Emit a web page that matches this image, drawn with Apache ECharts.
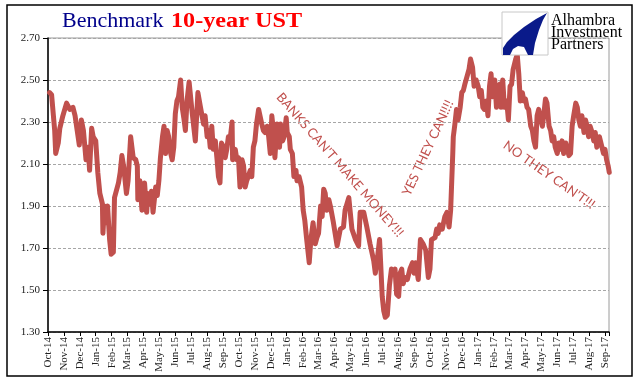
<!DOCTYPE html>
<html>
<head>
<meta charset="utf-8">
<script src="https://cdn.jsdelivr.net/npm/echarts@6/dist/echarts.min.js"></script>
<style>
html,body{margin:0;padding:0;background:#fff;}
#chart{width:641px;height:381px;}
</style>
</head>
<body>
<div id="chart"></div>
<script>
// Days since 2014-10-01
var days = [3,7,13,15,20,23,29,36,42,48,52,56,60,64,68,73,77,80,84,87,92,96,100,105,106,109,112,115,119,122,126,128,135,138,141,144,149,152,157,162,167,170,171,175,179,184,188,190,194,197,200,205,208,211,214,218,221,224,227,230,234,237,240,243,246,249,253,256,259,262,265,269,275,281,286,291,297,300,304,307,310,313,316,320,323,326,329,332,336,339,342,345,348,352,353,358,361,364,367,371,374,377,380,383,387,390,393,396,399,403,406,409,412,415,419,422,425,428,431,434,438,443,445,449,452,456,458,462,464,468,471,475,477,481,486,489,492,495,500,503,507,511,514,517,521,524,527,530,533,537,540,546,553,559,565,568,575,581,588,594,597,604,610,616,623,626,629,634,639,642,645,649,653,657,661,664,667,671,674,677,680,683,688,693,698,701,704,709,713,718,723,728,731,734,741,744,747,750,755,760,764,768,771,775,776,779,782,785,789,792,795,798,801,806,809,813,816,820,824,827,830,833,836,840,843,846,849,852,856,859,862,865,867,870,873,877,880,883,886,889,894,897,900,903,907,910,913,916,919,923,926,929,932,935,938,942,945,948,951,954,958,961,964,967,970,974,977,980,983,986,990,993,996,999,1002,1005,1009,1012,1015,1018,1021,1025,1028,1031,1034,1037,1041,1044,1047,1050,1055,1060,1063,1066,1069,1072,1074];
var yields = [2.44,2.43,2.26,2.15,2.20,2.27,2.33,2.39,2.36,2.37,2.33,2.26,2.19,2.31,2.26,2.12,2.18,2.07,2.27,2.23,2.21,2.06,1.96,1.91,1.77,1.90,1.82,1.90,1.74,1.67,1.68,1.94,2.01,2.06,2.14,2.09,1.96,2.02,2.23,2.13,2.12,2.09,1.93,2.02,1.88,2.01,1.87,1.96,1.91,1.97,1.87,1.99,1.95,2.02,2.13,2.23,2.28,2.15,2.26,2.23,2.15,2.12,2.18,2.34,2.40,2.42,2.50,2.37,2.32,2.26,2.40,2.49,2.34,2.21,2.44,2.37,2.29,2.33,2.23,2.26,2.18,2.28,2.17,2.21,2.13,2.04,2.01,2.20,2.18,2.13,2.17,2.23,2.21,2.30,2.12,2.17,2.12,2.13,1.99,2.12,2.09,1.99,2.02,2.04,2.07,2.04,2.18,2.21,2.29,2.36,2.36,2.29,2.26,2.25,2.28,2.23,2.15,2.33,2.26,2.13,2.29,2.18,2.29,2.21,2.23,2.32,2.25,2.23,2.17,2.15,2.04,2.07,2.02,2.04,1.99,1.88,1.83,1.75,1.63,1.74,1.82,1.72,1.75,1.77,1.90,1.85,1.98,1.96,1.88,1.93,1.90,1.82,1.71,1.79,1.80,1.88,1.94,1.79,1.74,1.71,1.87,1.87,1.80,1.72,1.64,1.58,1.63,1.74,1.47,1.40,1.37,1.38,1.52,1.60,1.58,1.60,1.48,1.47,1.58,1.60,1.53,1.56,1.55,1.60,1.63,1.58,1.63,1.55,1.74,1.72,1.69,1.56,1.60,1.74,1.75,1.79,1.77,1.81,1.79,1.85,1.87,1.80,1.88,2.15,2.23,2.29,2.36,2.31,2.37,2.44,2.45,2.48,2.48,2.55,2.60,2.56,2.47,2.50,2.47,2.42,2.45,2.37,2.36,2.40,2.33,2.47,2.53,2.42,2.50,2.37,2.47,2.48,2.37,2.50,2.37,2.40,2.31,2.47,2.48,2.55,2.60,2.62,2.53,2.40,2.44,2.40,2.41,2.37,2.36,2.28,2.26,2.21,2.18,2.33,2.36,2.31,2.28,2.34,2.41,2.39,2.28,2.26,2.21,2.23,2.18,2.15,2.20,2.17,2.21,2.15,2.20,2.17,2.14,2.15,2.28,2.33,2.39,2.37,2.31,2.28,2.33,2.25,2.31,2.28,2.23,2.28,2.25,2.21,2.25,2.18,2.23,2.18,2.15,2.17,2.12,2.09,2.06];
var monthLabels = ['Oct-14','Nov-14','Dec-14','Jan-15','Feb-15','Mar-15','Apr-15','May-15','Jun-15','Jul-15','Aug-15','Sep-15','Oct-15','Nov-15','Dec-15','Jan-16','Feb-16','Mar-16','Apr-16','May-16','Jun-16','Jul-16','Aug-16','Sep-16','Oct-16','Nov-16','Dec-16','Jan-17','Feb-17','Mar-17','Apr-17','May-17','Jun-17','Jul-17','Aug-17','Sep-17'];
var yTicks = [1.30,1.50,1.70,1.90,2.10,2.30,2.50,2.70];

function monthIndex(day){
  var d = new Date(Date.UTC(2014,9,1) + day*86400000);
  var y = d.getUTCFullYear(), mo = d.getUTCMonth();
  var dim = new Date(Date.UTC(y, mo+1, 0)).getUTCDate();
  return (y-2014)*12 + mo - 9 + (d.getUTCDate()-1)/dim;
}
var seriesData = days.map(function(dd,i){ return [monthIndex(dd), yields[i]]; });

var chart = echarts.init(document.getElementById('chart'), null, {renderer:'canvas'});
var red = '#C0504D';
var option = {
  animation:false,
  backgroundColor:'#ffffff',
  grid:{left:48, right:32, top:38, bottom:49, show:true, borderColor:'#9a9a9a', borderWidth:1, backgroundColor:'transparent'},
  xAxis:{
    type:'value', min:0, max:35.25, interval:1,
    axisLine:{show:true, onZero:false, lineStyle:{color:'#000', width:1.5}},
    axisTick:{show:true, length:4, lineStyle:{color:'#000'}},
    splitLine:{show:false},
    axisLabel:{rotate:90, fontFamily:'Liberation Serif', fontSize:11, color:'#222', margin:5,
      formatter:function(v){ var i=Math.round(v); return (Math.abs(v-i)<1e-6 && monthLabels[i]) ? monthLabels[i] : ''; }}
  },
  yAxis:{
    type:'value', min:yTicks[0], max:yTicks[yTicks.length-1], interval:0.2,
    axisLine:{show:true, onZero:false, lineStyle:{color:'#000', width:1.5}},
    axisTick:{show:true, length:5, lineStyle:{color:'#000'}},
    splitLine:{show:true, lineStyle:{color:'#a6a6a6', type:[3,2], width:1}},
    axisLabel:{fontFamily:'Liberation Serif', fontSize:11, color:'#222', margin:8,
      formatter:function(v){ return v.toFixed(2); }}
  },
  series:[{
    type:'line', data:seriesData, showSymbol:false, smooth:false,
    lineStyle:{color:red, width:5, join:'round', cap:'round'},
    itemStyle:{color:red}
  }],
  graphic:[
    {type:'rect', shape:{x:7, y:5, width:625, height:371}, style:{fill:'none', stroke:'#000', lineWidth:1.5}, z:-1},
    {type:'text', x:62, y:10, style:{text:'Benchmark', fontFamily:'Liberation Serif', fontSize:22, fill:'#00008B'}},
    {type:'text', x:171, y:10, scaleX:1.1, style:{text:'10-year UST', fontFamily:'Liberation Serif', fontSize:22, fontWeight:'bold', fill:'#FF0000'}},
    {type:'rect', shape:{x:502, y:12, width:46, height:43}, style:{fill:'#fff', stroke:'#c8c8c8', lineWidth:1}, z:10},
    {type:'polygon', shape:{points:[[547,13],[536,19],[524,27],[514,35],[507,42],[503,48],[503,55],[510,55],[513,49],[518,46],[524,47],[528,55],[533,55],[535,43],[539,30],[543,20]]}, style:{fill:'#0a1a8a'}, z:11},
    {type:'text', x:551, y:13, style:{text:'Alhambra', fontFamily:'Liberation Serif', fontSize:16, fill:'#000'}, z:11},
    {type:'text', x:551, y:25, style:{text:'Investment', fontFamily:'Liberation Serif', fontSize:16, fill:'#000'}, z:11},
    {type:'text', x:551, y:37, style:{text:'Partners', fontFamily:'Liberation Serif', fontSize:16, fill:'#000'}, z:11},
    {type:'text', x:340, y:165, rotation:-49*Math.PI/180, style:{text:"BANKS CAN'T MAKE MONEY!!!", fontFamily:'Lato', fontSize:13, fill:red, align:'center', verticalAlign:'middle'}},
    {type:'text', x:428, y:148, rotation:65*Math.PI/180, style:{text:'YES THEY CAN!!!!', fontFamily:'Lato', fontSize:13, fill:red, align:'center', verticalAlign:'middle'}},
    {type:'text', x:549, y:175, rotation:-35*Math.PI/180, style:{text:"NO THEY CAN'T!!!", fontFamily:'Lato', fontSize:13, fill:red, align:'center', verticalAlign:'middle'}}
  ]
};
chart.setOption(option);
</script>
</body>
</html>
